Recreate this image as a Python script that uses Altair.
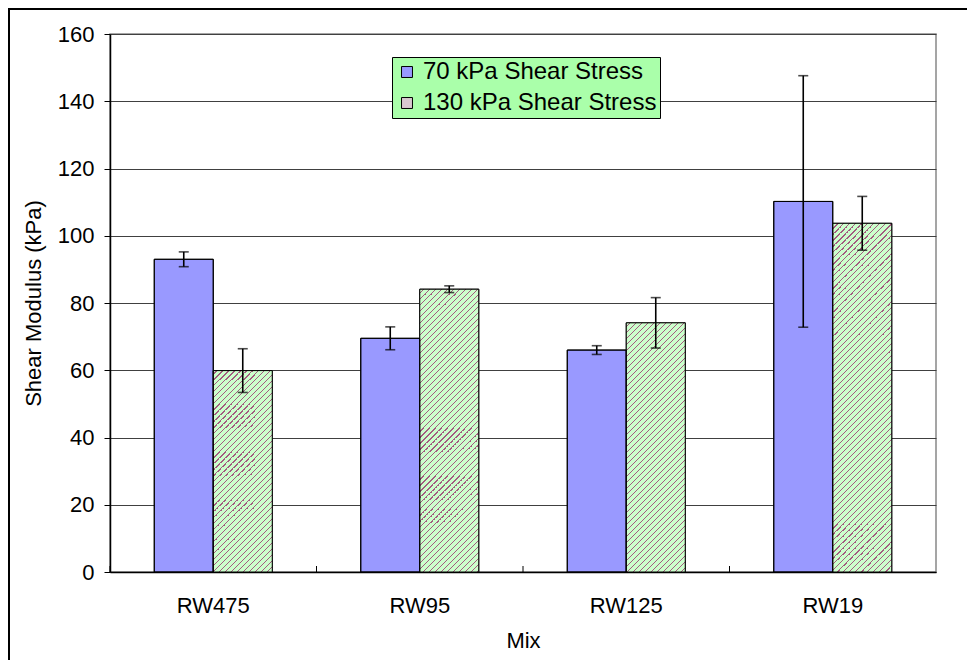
import altair as alt
import pandas as pd

# ---- data ----
mix = ["RW475", "RW95", "RW125", "RW19"]
series = ["70 kPa Shear Stress", "130 kPa Shear Stress"]
s70 = [93.0, 69.5, 66.0, 110.2]
s70_err = [2.2, 3.4, 1.3, 37.4]
s130 = [59.9, 84.1, 74.1, 103.7]
s130_err = [6.5, 1.0, 7.5, 8.0]

rows = []
for i, m in enumerate(mix):
    rows.append({"Mix": m, "Series": series[0], "Value": s70[i], "Err": s70_err[i]})
    rows.append({"Mix": m, "Series": series[1], "Value": s130[i], "Err": s130_err[i]})
df = pd.DataFrame(rows)
df["lo"] = df["Value"] - df["Err"]
df["hi"] = df["Value"] + df["Err"]

FONT = "Liberation Sans"
FS = 22
W_VIEW, H_VIEW = 826, 538
YMAX = 160
PX_PER_UNIT = H_VIEW / YMAX
STEP = W_VIEW / len(mix)
BAR_W = STEP / 3.5
SEG_PX = 24
HATCH_BG = "#CCFFCC"
HATCH_FG = "#A35A80"


def hatch(W, h, phase, p=6.0, frac=0.32):
    """Linear gradient imitating '/' diagonal hatching inside a W x h box."""
    L = W + h
    k = W * L / (W * W + h * h)
    stops = []

    def add(s, c):
        stops.append(alt.GradientStop(offset=min(max(s / L, 0.0), 1.0), color=c))

    s = -(phase % p)
    while s < L:
        a, b, c = s, s + p * (1 - frac), s + p
        if b > 0:
            add(max(a, 0), HATCH_BG)
            add(min(b, L), HATCH_BG)
        if c > 0 and b < L:
            add(max(b, 0), HATCH_FG)
            add(min(c, L), HATCH_FG)
        s += p
    return alt.LinearGradient(gradient="linear", stops=stops, x1=0, y1=0, x2=k, y2=k * h / W)


x_enc = alt.X("Mix:N", sort=mix,
              scale=alt.Scale(domain=mix, paddingInner=0, paddingOuter=0),
              axis=alt.Axis(title="Mix", labelAngle=0, ticks=False, tickSize=0,
                            labelPadding=33, labelBaseline="middle",
                            labelFont=FONT, labelFontSize=FS, labelColor="black",
                            titleFont=FONT, titleFontSize=FS, titleFontWeight="normal",
                            titleColor="black", titleX=W_VIEW / 2, titleY=68,
                            titleBaseline="middle", titleAlign="center",
                            domainColor="black", domainWidth=1.5))
xo_enc = alt.XOffset("Series:N", sort=series,
                     scale=alt.Scale(domain=series, paddingInner=0, paddingOuter=0.75))
y_enc = alt.Y("Value:Q",
              scale=alt.Scale(domain=[0, YMAX], nice=False),
              axis=alt.Axis(title="Shear Modulus (kPa)", values=list(range(0, 161, 20)),
                            tickSize=6, tickColor="black", tickWidth=1,
                            labelPadding=10, labelFont=FONT, labelFontSize=FS,
                            labelColor="black", grid=True, gridColor="#404040",
                            gridWidth=1, domainColor="black", domainWidth=1.5,
                            titleFont=FONT, titleFontSize=FS, titleFontWeight="normal",
                            titleColor="black", titleX=-77, titleY=H_VIEW / 2,
                            titleAngle=270, titleAlign="center", titleBaseline="middle"))

base = alt.Chart(df)

frame = alt.Chart(pd.DataFrame({"a": [0]})).mark_rect(
    fillOpacity=0, stroke="black", strokeWidth=2).encode(
    x=alt.value(-101), x2=alt.value(1000), y=alt.value(-25), y2=alt.value(800))

bars = base.mark_bar(stroke="black", strokeWidth=1).encode(
    x=x_enc, xOffset=xo_enc, y=y_enc,
    color=alt.Color("Series:N", sort=series,
                    scale=alt.Scale(domain=series, range=["#9999FF", "#D8C8D0"]),
                    legend=alt.Legend(title=None, orient="none", legendX=282, legendY=23,
                                      fillColor="#AAFFAA", strokeColor="black",
                                      padding=3, rowPadding=7, symbolType="square",
                                      symbolSize=120, symbolStrokeColor="black",
                                      symbolStrokeWidth=1, labelFont=FONT,
                                      labelFontSize=24, labelColor="black",
                                      labelOffset=4, labelLimit=600))
)

layers = [frame, bars]

# hatched bars, drawn in short stacked pieces so the stripes stay crisp
for i, m in enumerate(mix):
    total_px = s130[i] * PX_PER_UNIT
    x_left = i * STEP + 0.75 * BAR_W + BAR_W
    lo_px = 0.0
    while lo_px < total_px - 1e-6:
        hi_px = min(lo_px + SEG_PX, total_px)
        h = hi_px - lo_px
        y_top = H_VIEW - hi_px
        seg = pd.DataFrame({"Mix": [m], "Series": [series[1]],
                            "v0": [lo_px / PX_PER_UNIT], "v1": [hi_px / PX_PER_UNIT]})
        layers.append(
            alt.Chart(seg).mark_bar(fill=hatch(BAR_W, h, x_left + y_top), strokeWidth=0)
            .encode(x=x_enc, xOffset=xo_enc, y=alt.Y("v0:Q"), y2="v1:Q")
        )
        lo_px = hi_px

outline = base.mark_bar(fillOpacity=0, stroke="black", strokeWidth=1).encode(
    x=x_enc, xOffset=xo_enc, y="Value:Q")

err = base.mark_rule(color="black", strokeWidth=1.6).encode(
    x=x_enc, xOffset=xo_enc, y="lo:Q", y2="hi:Q")
cap_lo = base.mark_tick(color="black", thickness=1.6, size=10).encode(
    x=x_enc, xOffset=xo_enc, y="lo:Q")
cap_hi = base.mark_tick(color="black", thickness=1.6, size=10).encode(
    x=x_enc, xOffset=xo_enc, y="hi:Q")

bounds = alt.Chart(pd.DataFrame({"Mix": mix})).mark_rule(color="black", strokeWidth=1).encode(
    x=alt.X("Mix:N", sort=mix, bandPosition=0),
    y=alt.value(H_VIEW - 6), y2=alt.value(H_VIEW))

layers += [outline, err, cap_lo, cap_hi, bounds]

chart = alt.layer(*layers).properties(
    width=W_VIEW, height=H_VIEW,
    autosize=alt.AutoSizeParams(type="none"),
    padding={"left": 102, "top": 26, "right": 31, "bottom": 88},
    background="white",
).configure_view(stroke="#888888", strokeWidth=1.5)

chart.save("out.html", embed_options={"renderer": "svg", "actions": False})
